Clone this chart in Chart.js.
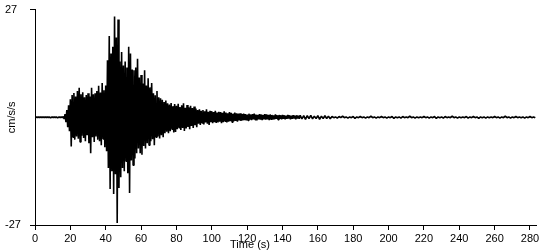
<!doctype html>
<html>

<head>
    <title>Accelerogram</title>
    <script src="https://cdn.jsdelivr.net/npm/chart.js"></script>
    <style>
        body { margin: 0; background: #fff; }
    </style>
</head>

<body>
    <div style="width: 550px; height: 250px;">
        <canvas id="sismo"></canvas>
    </div>

    <script>
    // acceleration record (cm/s/s) in three pieces
    const START_A = 0;     // s
    const STEP_A = 0.5;
    const accelA = [
        0.1, -0.1, 0.1, -0.1, 0.1, -0.1, 0.1, -0.1, 0.1, -0.1,
        0.1, -0.1, 0.1, -0.1, 0.1, -0.1, 0.1, -0.1, 0.1, -0.1,
        0.1, -0.1, 0.1, -0.1, 0.1, -0.1, 0.1, -0.1, 0.1, -0.1,
        0.1, -0.1, 0.2, -0.4, 0.8, -1.2, 1.8, -2.5, 3.0, -3.5,
        4.5, -7.3, 5.6, -5.0, 6.1, -5.6, 5.2, -4.8, 6.6, -5.4,
        7.4, -6.2, 5.8, -4.6, 6.3, -5.2, 5.0, -6.0, 5.6, -4.5,
        6.0, -6.5, 5.2, -9.0, 7.4, -5.0, 5.8, -6.2, 6.0, -4.8,
        6.6, -5.6, 7.9, -6.0, 6.2, -7.0, 8.6, -5.4, 6.8, -7.5,
        8.0, -8.5, 14.3, -12.7, 20.4, -18.0, 16.0, -13.5, 17.7, -19.2,
        25.3, -14.3, 20.0, -26.5, 24.5, -17.7, 14.0, -15.0, 16.4, -12.7,
        13.0, -13.5, 14.0, -11.0, 12.5, -14.0, 17.7, -19.0, 16.0, -10.8,
        12.0, -12.0, 11.8, -10.3, 12.5, -9.0, 14.7, -7.8, 10.0, -9.0,
        10.6, -9.4, 8.5, -7.2, 11.8, -7.8, 8.0, -6.5, 9.8, -7.0,
        7.5, -6.0, 8.6, -5.5, 6.0, -7.0, 5.5, -5.0, 6.6, -4.8,
        5.0, -5.3, 4.8, -4.5, 4.4, -5.0, 3.8, -4.0, 4.2, -3.6,
        3.5
    ];

    const START_B = 75.5;
    const STEP_B = 0.5;
    const accelB = [
        -4.0, 3.2, -3.5, 3.6, -3.0, 2.8, -3.8, 3.3, -3.7, 2.9,
        -3.0, 3.4, -2.6, 2.6, -3.2, 3.0, -2.7, 3.5, -3.4, 2.4,
        -2.8, 3.1, -2.4, 2.5, -3.0, 2.9, -2.2, 2.3, -2.7, 2.7,
        -2.0, 2.2, -2.5, 1.8, -1.6, 2.0, -1.9, 1.6, -1.4, 1.8,
        -1.8, 1.5, -1.3, 2.0, -1.6, 1.4, -1.9, 1.6, -1.2, 1.5,
        -1.5, 1.3, -1.2, 1.6, -1.4, 1.2, -1.3, 1.4, -1.1, 1.3,
        -1.5, 1.1, -1.2, 1.5, -1.0, 1.2, -1.3, 1.0, -1.1, 1.3,
        -1.0, 1.1, -1.2, 0.9, -1.0, 1.2, -0.9, 1.0, -1.1, 0.9,
        -0.8, 1.0, -0.9, 0.8, -0.8, 0.9, -0.7, 0.8, -0.8, 0.7,
        -0.8, 0.9, -0.6, 0.7, -0.7, 0.8, -0.5, 0.9, -0.6, 0.7,
        -0.8, 0.6, -0.5, 0.8, -0.6, 0.7, -0.7, 0.6, -0.5, 0.8,
        -0.6, 0.7, -0.5, 0.6, -0.7, 0.7, -0.5, 0.6, -0.6, 0.5,
        -0.5, 0.7, -0.4, 0.5, -0.6, 0.6, -0.4, 0.5, -0.5, 0.6,
        -0.4, 0.5, -0.5, 0.4, -0.4, 0.6, -0.3, 0.5, -0.5, 0.4,
        -0.4, 0.5, -0.3, 0.4, -0.5, 0.5, -0.3, 0.4, -0.4, 0.5
    ];

    const START_C = 151;
    const STEP_C = 1;
    const accelC = [
        -0.4, 0.4, -0.5, 0.4, -0.3, 0.5, -0.4, 0.3, -0.3, 0.4,
        -0.5, 0.3, -0.3, 0.4, -0.3, 0.3, -0.4,
        0.2, -0.1, 0.1, -0.2, 0.2, -0.1, 0.3, -0.1, 0.1, -0.2,
        0.1, -0.1, 0.2, -0.3, 0.1, -0.1, 0.2, -0.1, 0.1, -0.2,
        0.1, -0.1, 0.3, -0.1, 0.1, -0.2, 0.1, -0.1, 0.2, -0.1,
        0.1, -0.2, 0.1, -0.1, 0.2, -0.3, 0.1, -0.1, 0.1, -0.2,
        0.2, -0.1, 0.1, -0.1, 0.3, -0.1, 0.1, -0.2, 0.1, -0.1,
        0.1, -0.1, 0.2, -0.1, 0.1, -0.2, 0.1, -0.1, 0.2, -0.3,
        0.1, -0.1, 0.1, -0.2, 0.2, -0.1, 0.1, -0.1, 0.3, -0.1,
        0.1, -0.2, 0.1, -0.1, 0.1, -0.1, 0.2, -0.2, 0.1, -0.1,
        0.2, -0.1, 0.1, -0.3, 0.1, -0.1, 0.1, -0.2, 0.1, -0.1,
        0.1, -0.1, 0.2, -0.1, 0.1, -0.2, 0.1, -0.1, 0.3, -0.1,
        0.1, -0.2, 0.1, -0.1, 0.2, -0.1, 0.1, -0.1, 0.1, -0.2,
        0.1, -0.1, 0.2, -0.1, 0.1, -0.1
    ];

    const Y_LIMIT = 27;
    const X_MAX = 283.4;
    const FONTE = { family: '"Liberation Sans", Arial, sans-serif', size: 11 };

    function montaPontos(inicio, passo, valores) {
        return valores.map((v, i) => ({ x: inicio + i * passo, y: v }));
    }

    var pontos = []
        .concat(montaPontos(START_A, STEP_A, accelA))
        .concat(montaPontos(START_B, STEP_B, accelB))
        .concat(montaPontos(START_C, STEP_C, accelC));

    // "Time (s)" sits left of the axis centre in the original
    const tituloX = {
        id: 'tituloX',
        afterDraw(chart) {
            var ctx = chart.ctx;
            ctx.save();
            ctx.font = FONTE.size + 'px ' + FONTE.family;
            ctx.fillStyle = '#000';
            ctx.textAlign = 'center';
            ctx.textBaseline = 'middle';
            ctx.fillText('Time (s)', 250, 245);
            ctx.restore();
        }
    };

    var grafico = new Chart(document.getElementById('sismo').getContext('2d'), {
        type: 'line',
        data: {
            datasets: [{
                data: pontos,
                borderColor: '#000',
                backgroundColor: '#000',
                borderWidth: 1.6,
                borderJoinStyle: 'bevel',
                pointRadius: 0,
                tension: 0,
                fill: 'origin'
            }]
        },
        plugins: [tituloX],
        options: {
            responsive: true,
            maintainAspectRatio: false,
            animation: false,
            layout: { padding: { top: 5, right: 14, left: 5, bottom: 0 } },
            plugins: {
                legend: { display: false },
                tooltip: { enabled: false }
            },
            scales: {
                x: {
                    type: 'linear',
                    min: 0,
                    max: X_MAX,
                    afterFit: s => { s.height = 25; },
                    grid: { drawOnChartArea: false, color: '#000', tickLength: 5, tickColor: '#000' },
                    border: { color: '#000' },
                    ticks: {
                        stepSize: 20,
                        includeBounds: false,
                        maxRotation: 0,
                        autoSkip: false,
                        padding: 2,
                        color: '#000',
                        font: FONTE
                    }
                },
                y: {
                    min: -Y_LIMIT,
                    max: Y_LIMIT,
                    afterFit: s => { s.width = 30; },
                    afterBuildTicks: s => { s.ticks = [{ value: -Y_LIMIT }, { value: Y_LIMIT }]; },
                    grid: { drawOnChartArea: false, color: '#000', tickLength: 5, tickColor: '#000' },
                    border: { color: '#000' },
                    title: {
                        display: true,
                        text: 'cm/s/s',
                        color: '#000',
                        font: FONTE,
                        padding: { top: 0, bottom: 0 }
                    },
                    ticks: {
                        crossAlign: 'far',
                        color: '#000',
                        font: FONTE
                    }
                }
            }
        }
    });
    </script>
</body>

</html>
